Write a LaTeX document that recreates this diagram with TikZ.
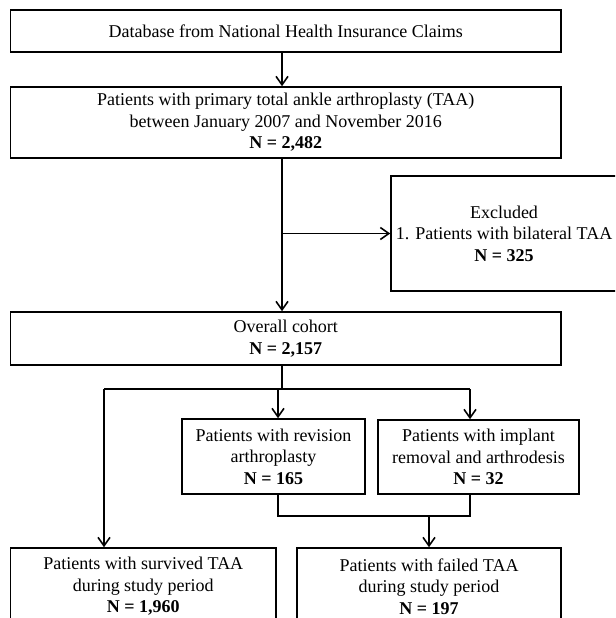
\documentclass[tikz,border=0pt]{standalone}
\usepackage{fontspec}
\setmainfont{Liberation Serif}
\usetikzlibrary{arrows.meta}
\tikzset{
  box/.style={draw, line width=0.9pt, align=center, inner sep=1pt,
    font=\fontsize{10.24pt}{12.2pt}\selectfont},
  arr/.style={line width=0.9pt, -{Straight Barb[length=0.17cm,width=0.24cm]}}
}
\begin{document}
\begin{tikzpicture}[x=0.02cm,y=-0.02cm]
\clip (0,0) rectangle (615,618);

\node[box, minimum width=550.5*0.02cm, minimum height=42*0.02cm] (db) at (285.75,31)
  {Database from National Health Insurance Claims};
\node[box, minimum width=550.5*0.02cm, minimum height=71*0.02cm] (primary) at (285.75,122.5)
  {Patients with primary total ankle arthroplasty (TAA)\\between January 2007 and November 2016\\\textbf{N = 2,482}};
\node[box, minimum width=226*0.02cm, minimum height=115*0.02cm] (excl) at (504,233.5)
  {Excluded\\1. Patients with bilateral TAA\\\textbf{N = 325}};
\node[box, minimum width=550.5*0.02cm, minimum height=53*0.02cm] (overall) at (285.75,338.5)
  {Overall cohort\\\textbf{N = 2,157}};
\node[box, minimum width=183*0.02cm, minimum height=75*0.02cm] (rev) at (273.5,456.5)
  {Patients with revision\\arthroplasty\\\textbf{N = 165}};
\node[box, minimum width=201*0.02cm, minimum height=74*0.02cm] (impl) at (478.5,457)
  {Patients with implant\\removal and arthrodesis\\\textbf{N = 32}};
\node[box, minimum width=265.5*0.02cm, minimum height=77*0.02cm] (surv) at (143.25,586.5)
  {Patients with survived TAA\\during study period\\\textbf{N = 1,960}};
\node[box, minimum width=264*0.02cm, minimum height=77*0.02cm] (fail) at (429,586.5)
  {Patients with failed TAA\\during study period\\\textbf{N = 197}};

\coordinate (spine) at (282,0);
\coordinate (sL) at (104,389);
\coordinate (sM) at (278,389);
\coordinate (sR) at (470,389);
\coordinate (jL) at (278,516);
\coordinate (jR) at (470,516);

\draw[arr] (db.south -| spine) -- (primary.north -| spine);
\draw[arr] (primary.south -| spine) -- (overall.north -| spine);
\draw[arr] (excl.west -| spine) -- (excl.west);

\draw[line width=0.9pt] (overall.south -| spine) -- (spine |- sL);
\draw[line width=0.9pt] (sL) -- (sR);
\draw[arr] (sL) -- (sL |- surv.north);
\draw[arr] (sM) -- (sM |- rev.north);
\draw[arr] (sR) -- (sR |- impl.north);

\draw[line width=0.9pt] (rev.south -| jL) -- (jL) -- (jR) -- (impl.south -| jR);
\draw[arr] (fail.north |- jL) -- (fail.north);
\end{tikzpicture}
\end{document}
